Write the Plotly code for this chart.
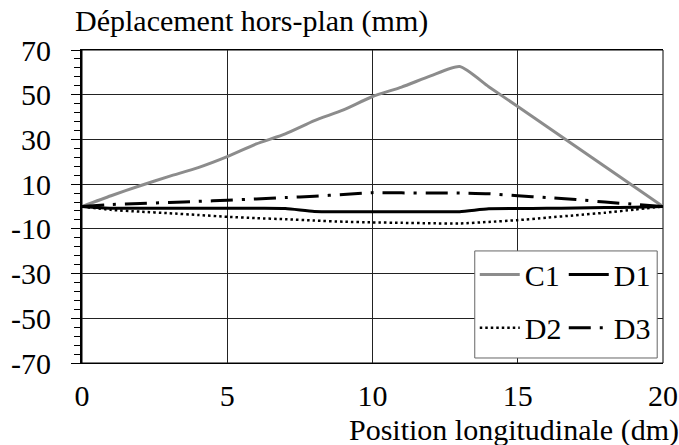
import plotly.graph_objects as go

x_pos = list(range(0, 21))
c1 = [0, 4.8, 9.3, 13.5, 17.4, 22.3, 28.0, 32.5, 38.4, 43.2, 49.2, 53.4, 58.4, 62.6,
      53.6, 44.7, 35.8, 26.8, 17.9, 8.9, 0]
d1 = [0, -0.8, -0.8, -0.8, -0.8, -0.8, -0.8, -0.9, -2.2, -2.3, -2.3, -2.3, -2.3, -2.3,
      -1.0, -0.9, -0.8, -0.7, -0.5, -0.3, 0]
d2 = [0, -1.5, -2.3, -3.0, -3.8, -4.6, -5.2, -5.7, -6.3, -6.8, -7.1, -7.3, -7.5, -7.6,
      -6.9, -6.1, -5.0, -3.9, -2.8, -1.4, 0]
d3 = [0, 0.9, 1.3, 1.8, 2.3, 2.8, 3.4, 4.0, 4.6, 5.4, 6.2, 6.1, 6.0, 6.0,
      5.7, 4.8, 4.0, 3.1, 2.0, 1.0, 0]

y_ticks = [-70, -50, -30, -10, 10, 30, 50, 70]
y_tick_text = ["-70", "-50", "-30", "-10", "10", "30", "50", "70"]
x_ticks = [0, 5, 10, 15, 20]

FONT = "Liberation Serif"
FS = 30

fig = go.Figure()
fig.add_trace(go.Scatter(x=x_pos, y=c1, name="C1", mode="lines", legend="legend",
                         line=dict(color="#8c8c8c", width=3, shape="spline", smoothing=0.6)))
fig.add_trace(go.Scatter(x=x_pos, y=d1, name="D1", mode="lines", legend="legend",
                         line=dict(color="black", width=3, shape="spline", smoothing=0.6)))
fig.add_trace(go.Scatter(x=x_pos, y=d2, name="D2", mode="lines", legend="legend2",
                         line=dict(color="black", width=2.5, dash="2.5px,3px", shape="spline", smoothing=0.6)))
fig.add_trace(go.Scatter(x=x_pos, y=d3, name="D3", mode="lines", legend="legend2",
                         line=dict(color="black", width=3, dash="22px,9px,3px,9px", shape="spline", smoothing=0.6)))

fig.update_layout(
    width=679, height=445,
    margin=dict(l=82, r=16, t=50, b=82, autoexpand=False),
    paper_bgcolor="white", plot_bgcolor="white",
    font=dict(family=FONT, size=FS, color="black"),
    xaxis=dict(range=[0, 20], tickvals=x_ticks, showgrid=True, gridcolor="#222", gridwidth=1,
               zeroline=False, showline=True, linecolor="black", linewidth=1, mirror=True,
               ticks="", ticklabelstandoff=6, automargin=False, tickfont=dict(family=FONT, size=FS)),
    xaxis2=dict(range=[0, 20], overlaying="x", anchor="free", position=0.5, side="bottom",
                showline=True, linecolor="#b0b0b0", linewidth=1, showgrid=False, zeroline=False,
                tickvals=list(range(1, 20)), ticks="outside", ticklen=4, tickcolor="#b0b0b0",
                showticklabels=False, automargin=False),
    yaxis=dict(range=[-70, 70], tickvals=y_ticks, ticktext=y_tick_text, showgrid=True,
               gridcolor="#222", gridwidth=1,
               zeroline=False, showline=True, linecolor="black", linewidth=2, mirror=False,
               ticks="outside", ticklen=9, tickcolor="black", ticklabelstandoff=14, automargin=False,
               minor=dict(tick0=-70, dtick=4, ticks="outside", ticklen=6, tickcolor="black", showgrid=False),
               tickfont=dict(family=FONT, size=FS)),
    legend=dict(orientation="h", x=0.676, y=0.283, xanchor="left", yanchor="middle",
                bgcolor="rgba(0,0,0,0)", borderwidth=0, itemwidth=40, entrywidth=34,
                font=dict(family=FONT, size=FS)),
    legend2=dict(orientation="h", x=0.676, y=0.113, xanchor="left", yanchor="middle",
                 bgcolor="rgba(0,0,0,0)", borderwidth=0, itemwidth=40, entrywidth=34,
                 font=dict(family=FONT, size=FS)),
    shapes=[dict(type="rect", xref="paper", yref="paper", x0=0.676, x1=0.990, y0=0.016, y1=0.358,
                 fillcolor="white", line=dict(color="#666", width=1), layer="above"),
            dict(type="rect", xref="paper", yref="paper", x0=0, x1=1, y0=0, y1=1,
                 line=dict(color="black", width=1), layer="below")],
    annotations=[
        dict(text="Déplacement hors-plan (mm)", xref="paper", yref="paper", x=-0.016, y=1.092,
             xanchor="left", yanchor="middle", showarrow=False, font=dict(family=FONT, size=FS)),
        dict(text="Position longitudinale (dm)", xref="paper", yref="paper", x=1.031, y=-0.213,
             xanchor="right", yanchor="middle", showarrow=False, font=dict(family=FONT, size=FS)),
    ],
    showlegend=True,
)

fig.write_html("out.html", config={"displayModeBar": False},
               post_script="document.body.style.margin='0';document.body.style.padding='0';")
